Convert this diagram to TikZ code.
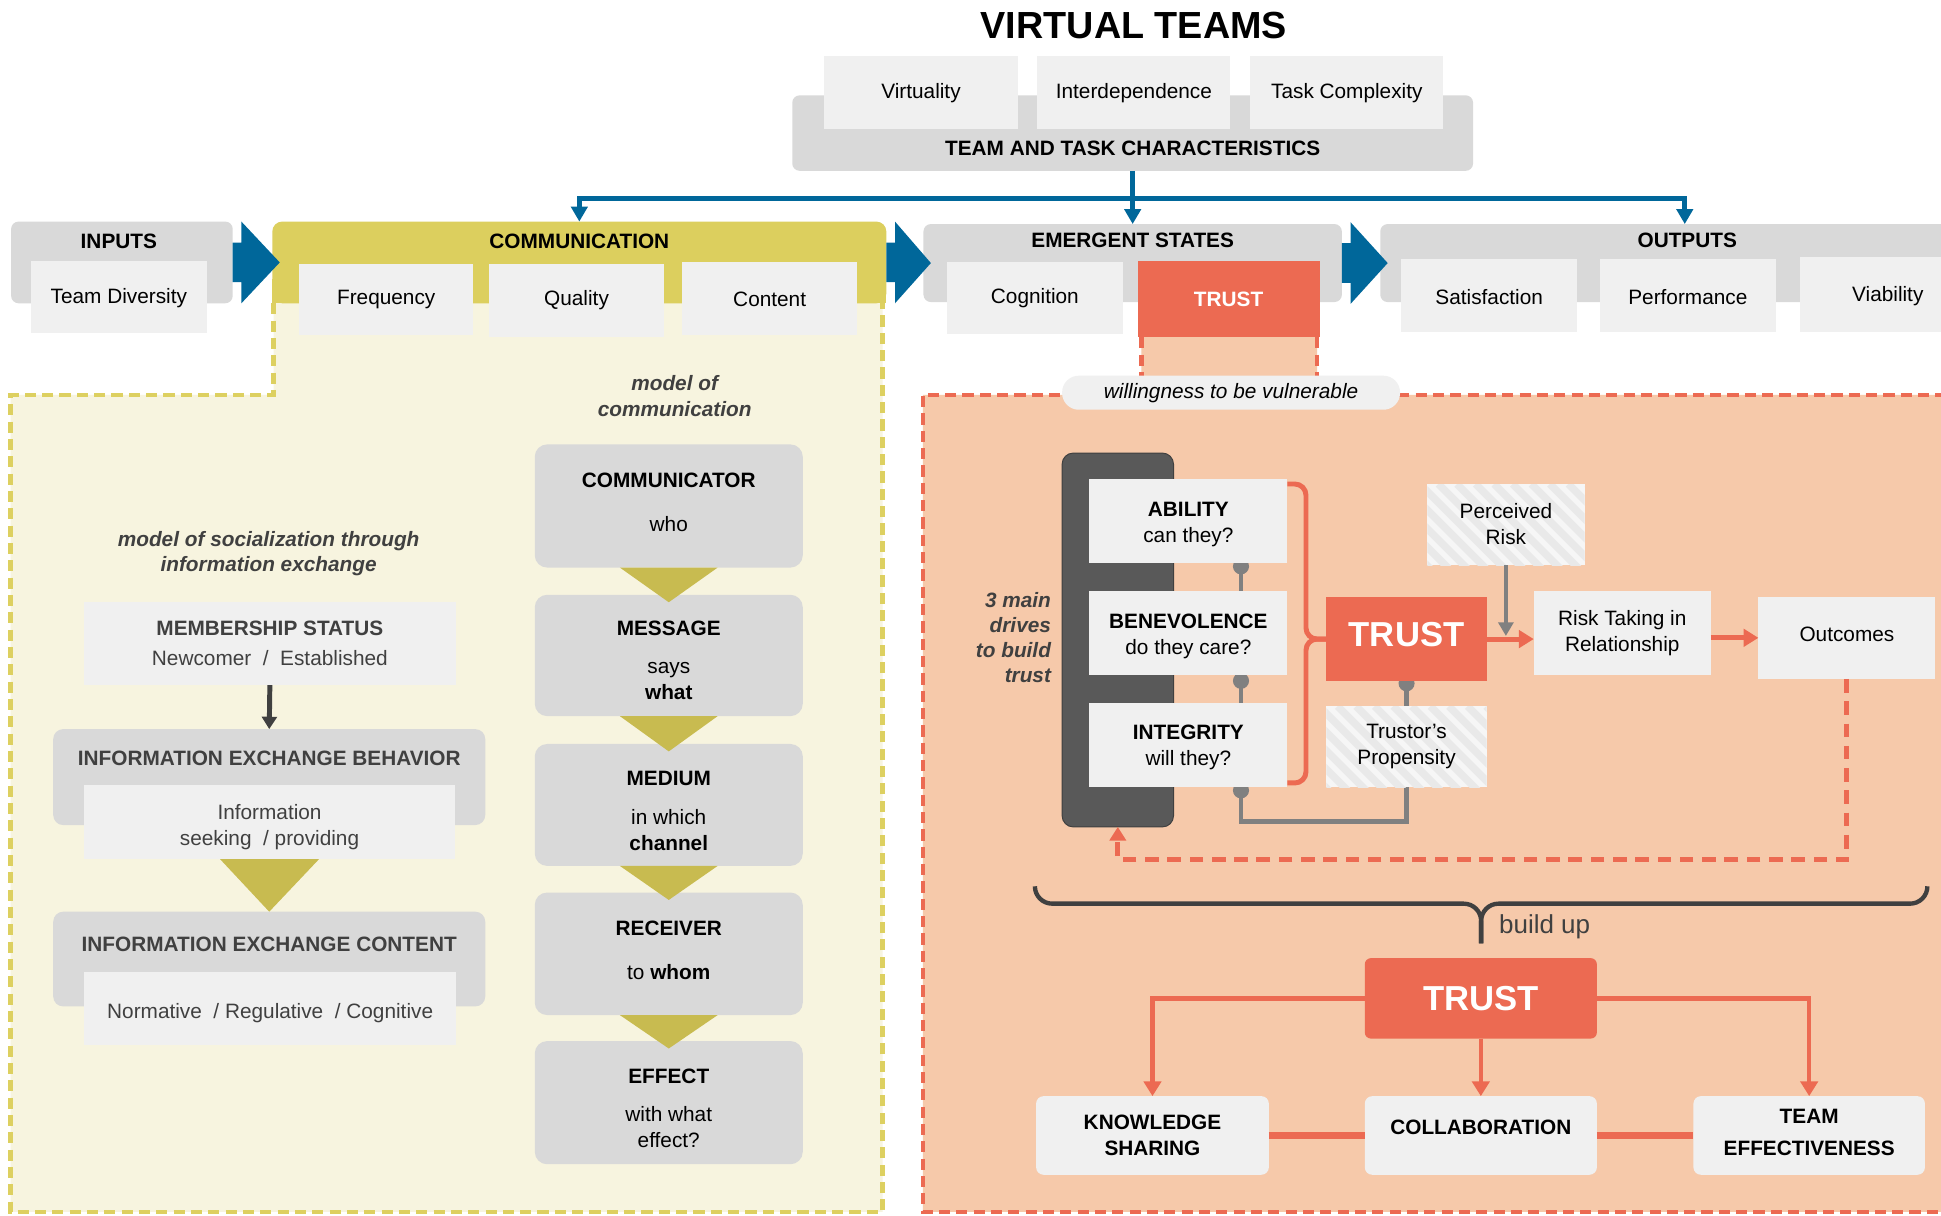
\documentclass[tikz,border=0pt]{standalone}
\usepackage{fontspec}
\setmainfont{Liberation Sans}
\usetikzlibrary{arrows.meta,calc}
\pgfdeclarelayer{back}
\pgfdeclarelayer{mid}
\pgfsetlayers{back,mid,main}

\definecolor{lgrey}{HTML}{F0F0F0}
\definecolor{mgrey}{HTML}{D9D9D9}
\definecolor{dgrey}{HTML}{595959}
\definecolor{cgrey}{HTML}{808080}
\definecolor{txtgrey}{HTML}{404040}
\definecolor{vblue}{HTML}{00679A}
\definecolor{yband}{HTML}{DCCF5E}
\definecolor{ylight}{HTML}{F7F4DF}
\definecolor{ydash}{HTML}{DDD060}
\definecolor{olive}{HTML}{C8BB50}
\definecolor{coral}{HTML}{EC6A52}
\definecolor{peach}{HTML}{F6C9AA}
\definecolor{hatchbg}{HTML}{F6F6F6}
\definecolor{hatchln}{HTML}{E9E9E9}

\newcommand\lblfont{\fontsize{16.8}{21}\selectfont}
% raises the top of a text block (pushes its lines down)
\newcommand\topgap[1]{\rule{0pt}{#1}}
% deepens the bottom of a text block (pushes its lines up)
\newcommand\botgap[1]{\rule[-#1]{0pt}{0pt}}
% box given by its corners: name, style, x1, y1, x2, y2; text follows
\newcommand\bx[6]{\node[#2, minimum width={#5-#3}, minimum height={#6-#4}] (#1) at ({(#3+#5)/2},{(#4+#6)/2})}
% broad blue process arrow between two stage panels
\newcommand\stagearrow[2]{\fill[vblue] ($(#1.east)+(0,-16)$) -- ++(7,0) -- ++(0,-17) -- ($(#2.west)+(6,0)$) -- ($(#1.east)+(7,33)$) -- ++(0,-17) -- ($(#1.east)+(0,16)$) -- cycle;}
% olive chevron between two stacked boxes
\newcommand\chevdown[3]{\fill[olive] ($(#1.south)+(-#3,0)$) -- ($(#1.south)+(#3,0)$) -- ($(#2.north)+(0,6)$) -- cycle;}

\tikzset{
  base/.style={inner sep=0pt, outer sep=0pt, align=center, font=\lblfont},
  lbox/.style={base, fill=lgrey},
  gpanel/.style={base, fill=mgrey, rounded corners=6pt},
  cbox/.style={base, fill=mgrey, rounded corners=10pt},
  hdr/.style={base, font=\lblfont\bfseries},
  lab/.style={base, font=\fontsize{16.8}{20.5}\selectfont\bfseries\itshape, text=txtgrey},
  redbox/.style={base, fill=coral, text=white, font=\fontsize{28}{30}\selectfont\bfseries},
  hatchbox/.style={base, fill=hatchbg, path picture={
      \foreach \k in {-96,-81,...,150}{
        \draw[hatchln, line width=6pt] ([xshift=\k pt]path picture bounding box.north west) -- ++(100pt,-100pt);}}},
  bline/.style={draw=vblue, line width=4pt, -{Triangle[length=12pt,width=13pt]}},
  rline/.style={draw=coral, line width=4pt},
  rarrow/.style={draw=coral, line width=4pt, -{Triangle[length=12pt,width=14pt]}},
  gline/.style={draw=cgrey, line width=4pt},
  garrow/.style={draw=cgrey, line width=3.5pt, -{Triangle[length=11pt,width=12pt]}},
  ydashed/.style={draw=ydash, line width=3.5pt, dash pattern=on 9pt off 5pt},
  rdashed/.style={draw=coral, line width=3.5pt, dash pattern=on 9pt off 5pt},
  brace/.style={draw=txtgrey, line width=3.5pt, rounded corners=14pt},
}

\begin{document}
\begin{tikzpicture}[x=1pt, y=-1pt]
\useasboundingbox (0,0) rectangle (1568,982);

% ---------- background areas ----------
\begin{pgfonlayer}{back}
  \fill[white] (0,0) rectangle (1568,982);
  % communication area
  \fill[ylight] (8.6,319) -- (221,319) -- (221,240) -- (713,240) -- (713,979) -- (8.6,979) -- cycle;
  \draw[ydashed] (221,245) -- (221,319) -- (8.6,319) -- (8.6,979) -- (713,979) -- (713,245);
  % trust area
  \fill[peach] (745.5,319) -- (922,319) -- (922,268) -- (1064,268) -- (1064,319) -- (1620,319) -- (1620,979) -- (745.5,979) -- cycle;
  \draw[rdashed] (922,272.5) -- (922,319) -- (745.5,319) -- (745.5,979) -- (1620,979);
  \draw[rdashed] (1064,272.5) -- (1064,319) -- (1620,319);
\end{pgfonlayer}

% ---------- title and characteristics ----------
\node[base, font=\fontsize{30.5}{34}\selectfont\bfseries] (title) at (916,21) {VIRTUAL TEAMS};
\bx{ttc}{gpanel}{640}{77}{1190}{138} {};
\node[hdr] (ttc-t) at (915,120) {TEAM AND TASK CHARACTERISTICS};
\bx{virt}{lbox, text height=14pt}{666}{45}{822}{104} {Virtuality};
\bx{interd}{lbox, text height=14pt}{838}{45}{994}{104} {Interdependence};
\bx{taskc}{lbox, text height=14pt}{1010}{45}{1166}{104} {Task Complexity};

% ---------- stages ----------
\bx{inputs}{gpanel}{9}{179}{188}{245} {};
\node[hdr] (inputs-t) at (96,195) {INPUTS};
\bx{teamdiv}{lbox, text height=14pt}{25}{211}{167}{269} {Team Diversity};

\bx{comm}{base, fill=yband, rounded corners=8pt}{220}{179}{716}{245} {};
\fill[yband] (220,225) rectangle (716,245);
\node[hdr] (comm-t) at (468,195) {COMMUNICATION};
\bx{freq}{lbox}{241.5}{213}{382.5}{271} {Frequency};
\bx{qual}{lbox}{395}{213.5}{536.5}{272} {Quality};
\bx{cont}{lbox}{551}{212}{692.5}{271} {Content};

\bx{es}{gpanel}{746}{181}{1084}{244} {};
\node[hdr] (es-t) at (915,194) {EMERGENT STATES};
\bx{cogn}{lbox}{765}{212}{907}{270} {Cognition};
\bx{trusttop}{base, fill=coral, text=white, font=\lblfont\bfseries}{919}{210.5}{1066}{272.5} {TRUST};

\bx{outputs}{gpanel}{1115}{181}{1620}{244} {};
\node[hdr] (outputs-t) at (1363,194) {OUTPUTS};
\bx{satis}{lbox, text height=14pt}{1132}{209.5}{1274}{268.5} {Satisfaction};
\bx{perf}{lbox, text height=14pt}{1292.5}{209.5}{1434.5}{268.5} {Performance};
\bx{viab}{lbox, text height=14pt}{1454}{208}{1596}{268} {Viability};

\stagearrow{inputs}{comm}
\stagearrow{comm}{es}
\stagearrow{es}{outputs}

% characteristics feed communication, emergent states and outputs
\coordinate (hub) at (915,160);
\coordinate (outin) at (1361,181);
\draw[bline] (ttc.south) -- (es.north);
\draw[bline] (hub) -| (comm.north);
\draw[bline] (hub) -| (outin);

% ---------- socialization model ----------
\node[lab] (soc-t) at (217,447) {model of socialization through\\information exchange};
\bx{mship}{lbox, text=txtgrey}{68}{486}{368}{553.5} {\textbf{MEMBERSHIP STATUS}\\[3pt]Newcomer~~/~~Established};
\bx{ieb}{base, fill=mgrey, rounded corners=8pt}{43}{589}{392}{666.5} {};
\node[hdr, text=txtgrey] (ieb-t) at (217.5,613) {INFORMATION EXCHANGE BEHAVIOR};
\bx{iebin}{lbox, text=txtgrey}{68}{634.5}{367.5}{694} {\topgap{20pt}Information\\seeking~~/ providing};
\bx{iec}{base, fill=mgrey, rounded corners=8pt}{43}{736.5}{392}{813} {};
\node[hdr, text=txtgrey] (iec-t) at (217.5,763) {INFORMATION EXCHANGE CONTENT};
\bx{iecin}{lbox, text=txtgrey, text height=19pt}{68}{785}{368.5}{844.5} {Normative~~/ Regulative~~/ Cognitive};
\draw[draw=txtgrey, line width=4pt, -{Triangle[length=10pt,width=12pt]}] (mship.south) -- (ieb.north);
\fill[olive] ($(iebin.south)+(-40,0)$) -- ($(iebin.south)+(40,0)$) -- (iec.north) -- cycle;

% ---------- communication model ----------
\node[lab] (cm-t) at (545,320) {model of\\communication};
\bx{comr}{cbox}{432}{359}{648.5}{458.5} {\textbf{COMMUNICATOR}\\[15pt]who\botgap{6pt}};
\bx{msg}{cbox}{432}{480.5}{648.5}{578.5} {\topgap{20pt}\textbf{MESSAGE}\\[10pt]says\\\textbf{what}};
\bx{med}{cbox}{432}{601}{648.5}{699.5} {\topgap{21pt}\textbf{MEDIUM}\\[10pt]in which\\\textbf{channel}};
\bx{rec}{cbox}{432}{721}{648.5}{820} {\textbf{RECEIVER}\\[14pt]to \textbf{whom}\botgap{6pt}};
\bx{eff}{cbox}{432}{841}{648.5}{940.5} {\topgap{21pt}\textbf{EFFECT}\\[10pt]with what\\effect?};
\chevdown{comr}{msg}{39.5}
\chevdown{msg}{med}{39.5}
\chevdown{med}{rec}{39.5}
\chevdown{rec}{eff}{39.5}

% ---------- trust model ----------
\bx{wtbv}{base, fill=lgrey, rounded corners=13.5pt, font=\lblfont\itshape}{858}{303.5}{1131}{331} {willingness to be vulnerable};
\bx{drives}{base, fill=dgrey, draw=txtgrey, line width=0.8pt, rounded corners=9pt}{858}{366}{948}{668} {};
\node[lab, align=right, anchor=east, font=\fontsize{16.8}{20.2}\selectfont\bfseries\itshape] (drives-t) at (849,515) {3 main\\drives\\to build\\trust};
\bx{abil}{lbox}{880}{387}{1040}{454.5} {\topgap{18pt}\textbf{ABILITY}\\can they?};
\bx{benev}{lbox}{880}{477.5}{1040}{545} {\topgap{18pt}\textbf{BENEVOLENCE}\\do they care?};
\bx{integ}{lbox}{880}{568}{1040}{635.5} {\topgap{16pt}\textbf{INTEGRITY}\\will they?};
\bx{trustm}{redbox, text depth=8pt}{1071.5}{482.5}{1201}{550} {TRUST};
\bx{prisk}{hatchbox}{1153}{391}{1280}{456.5} {Perceived\\Risk};
\bx{rtake}{lbox}{1239}{477.5}{1382}{545.5} {Risk Taking in\\Relationship};
\bx{outc}{lbox, text depth=6pt}{1420.5}{482}{1563.5}{548.5} {Outcomes};
\bx{tprop}{hatchbox}{1071.5}{570.5}{1201}{636} {Trustor’s\\Propensity};

% the three drives converge on trust
\coordinate (bj) at (1055,516.25);
\draw[rline, rounded corners=9pt] ($(abil.north east)+(0,4)$) -| (bj) -- (trustm.west);
\draw[rline, rounded corners=9pt] ($(integ.south east)+(0,-3)$) -| (bj) -- (trustm.west);

% grey links between the drives and the propensity
\coordinate (gx) at (1002.5,0);
\begin{pgfonlayer}{mid}
  \draw[gline] (abil.south -| gx) -- (benev.north -| gx);
  \draw[gline] (benev.south -| gx) -- (integ.north -| gx);
  \draw[gline] (integ.south -| gx) -- ++(0,28) -| (tprop.south);
  \draw[gline] (trustm.south) -- (tprop.north);
  \fill[cgrey] ($(abil.south -| gx)+(0,3)$) circle (6.5pt);
  \fill[cgrey] ($(benev.south -| gx)+(0,5)$) circle (6.5pt);
  \fill[cgrey] ($(integ.south -| gx)+(0,3)$) circle (6.5pt);
  \fill[cgrey] ($(trustm.south)+(0,2)$) circle (6.5pt);
\end{pgfonlayer}

\draw[rarrow] (trustm.east) -- (trustm.east -| rtake.west);
\draw[rarrow] (rtake.east |- outc.west) -- (outc.west);
\draw[garrow] (prisk.south) -- ($(prisk.south |- trustm.east)+(0,-2.5)$);
\draw[draw=coral, line width=4pt, dash pattern=on 11pt off 7pt, -{Triangle[length=11pt,width=13pt]}] (outc.south) -- ++(0,146) -| (drives.south);

% ---------- build up ----------
\coordinate (brL) at (836,716);
\coordinate (brR) at (1557,716);
\coordinate (brM) at (1196.5,730);
\coordinate (brT) at (1196.5,762);
\draw[brace] (brL) |- (brM) -- (brT);
\draw[brace] (brR) |- (brM) -- (brT);
\node[base, anchor=west, font=\fontsize{21}{24}\selectfont, text=txtgrey] (buildup) at (1211,749) {build up};

\bx{trustb}{redbox, rounded corners=5pt}{1102.5}{774}{1290}{839} {TRUST};
\bx{ks}{lbox, rounded corners=6pt, font=\lblfont\bfseries}{837}{885.5}{1025}{949} {KNOWLEDGE\\SHARING};
\bx{collab}{lbox, rounded corners=6pt, font=\lblfont\bfseries, text depth=14pt}{1102.5}{885.5}{1290}{949} {COLLABORATION};
\bx{teff}{lbox, rounded corners=6pt, font=\lblfont\bfseries}{1368}{885.5}{1555}{949} {TEAM\\[5pt]EFFECTIVENESS\botgap{5pt}};

\draw[rarrow, line width=3.5pt] (trustb.west) -| (ks.north);
\draw[rarrow, line width=3.5pt] (trustb.south) -- (collab.north);
\draw[rarrow, line width=3.5pt] (trustb.east) -| (teff.north);
\draw[rline, line width=5pt] (ks.east) -- (collab.west);
\draw[rline, line width=5pt] (collab.east) -- (teff.west);

\end{tikzpicture}
\end{document}
